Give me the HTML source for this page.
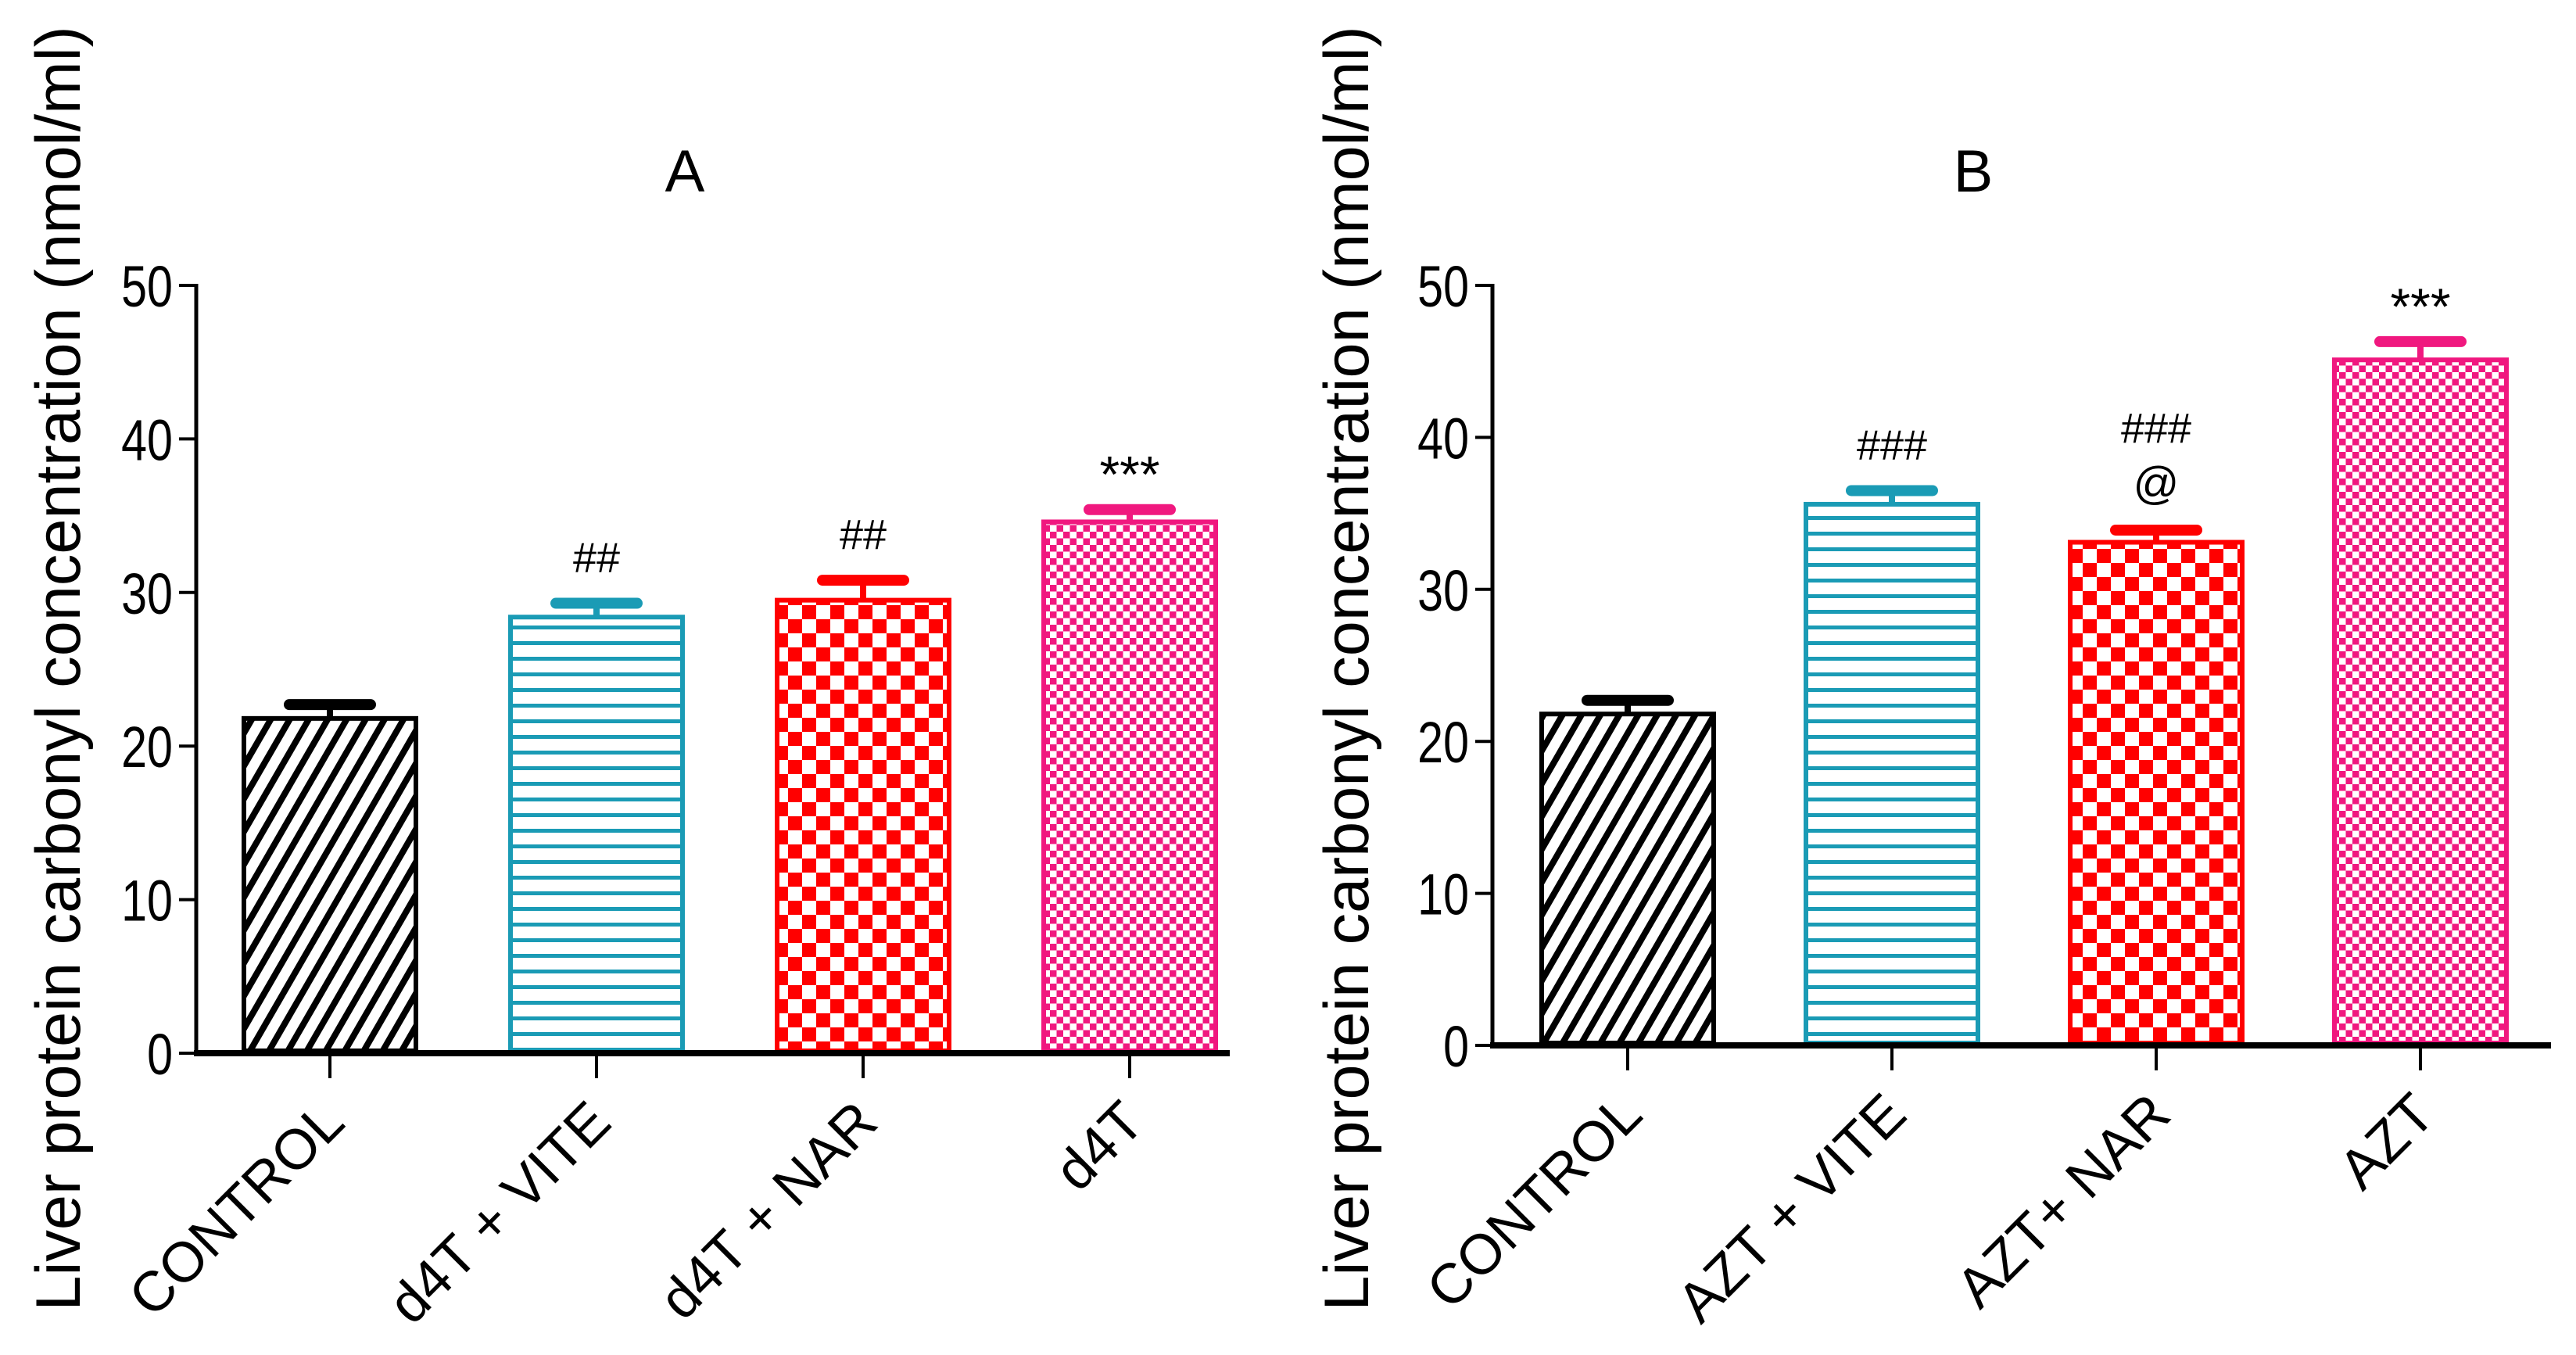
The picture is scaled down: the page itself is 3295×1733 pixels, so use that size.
<!DOCTYPE html>
<html><head><meta charset="utf-8">
<style>
html,body{margin:0;padding:0;background:#fff;}
svg{display:block;font-family:"Liberation Sans",sans-serif;}
</style></head>
<body>
<svg id="chart" width="3295" height="1733" viewBox="0 0 3295 1733" xmlns="http://www.w3.org/2000/svg">
<defs>
<pattern id="pDiag" patternUnits="userSpaceOnUse" width="21" height="21" patternTransform="rotate(30)">
<rect width="21" height="21" fill="#fff"/><rect width="8" height="21" fill="#000"/></pattern>
<pattern id="pHoriz" patternUnits="userSpaceOnUse" width="20" height="20">
<rect width="20" height="20" fill="#fff"/><rect y="0" width="20" height="5" fill="#1a9bb5"/></pattern>
<pattern id="pCheck" patternUnits="userSpaceOnUse" width="36" height="36">
<rect width="36" height="36" fill="#fff"/><rect width="18" height="18" fill="#ff0000"/><rect x="18" y="18" width="18" height="18" fill="#ff0000"/></pattern>
<pattern id="pFine" patternUnits="userSpaceOnUse" width="17" height="17">
<rect width="17" height="17" fill="#fff"/><rect width="8.5" height="8.5" fill="#f0187f"/><rect x="8.5" y="8.5" width="8.5" height="8.5" fill="#f0187f"/></pattern>
</defs>
</svg>
<script>
const categoriesA = ["CONTROL","d4T + VITE","d4T + NAR","d4T"];
const valuesA = [21.8, 28.4, 29.5, 34.6];
const errorsA = [0.9, 0.9, 1.3, 0.8];
const annotA = [[], ["##"], ["##"], ["***"]];
const categoriesB = ["CONTROL","AZT + VITE","AZT+ NAR","AZT"];
const valuesB = [21.8, 35.6, 33.1, 45.1];
const errorsB = [0.9, 0.9, 0.8, 1.2];
const annotB = [[], ["###"], ["###","@"], ["***"]];
const yTicks = [0, 10, 20, 30, 40, 50];

const NS = "http://www.w3.org/2000/svg";
const svg = document.getElementById("chart");
const fills = ["url(#pDiag)","url(#pHoriz)","url(#pCheck)","url(#pFine)"];
const strokes = ["#000","#1a9bb5","#ff0000","#f0187f"];
function mk(tag, attrs, parent){const e=document.createElementNS(NS,tag);for(const k in attrs)e.setAttribute(k,attrs[k]);(parent||svg).appendChild(e);return e;}

function panel(cfg, cats, vals, errs, annots){
  const g = mk("g",{});
  
  
  const y = v => cfg.y0 - (v/50)*(cfg.y0-cfg.y50);
  const x = i => cfg.t0 + i*cfg.step;
  const t = mk("text",{x:cfg.titleX,y:245,"font-size":76,"text-anchor":"middle"},g); t.textContent=cfg.title;
  
  
  const yt = mk("text",{transform:`translate(${cfg.yTitleX},855) rotate(-90)`,"font-size":81,"text-anchor":"middle"},g);
  yt.textContent="Liver protein carbonyl concentration (nmol/ml)";
  
  
  cats.forEach((c,i)=>{
    const cx=x(i), w=226, top=y(vals[i]);
    const b = mk("rect",{x:cx-w/2+3,y:top,width:w-6,height:cfg.y0-top-3,fill:fills[i],stroke:strokes[i],"stroke-width":6},g);
    
    
    const et=y(vals[i]+errs[i]);
    const s = mk("line",{x1:cx,x2:cx,y1:top,y2:et,stroke:strokes[i],"stroke-width":8},g);
    
    
    const cap = mk("line",{x1:cx-52,x2:cx+52,y1:et,y2:et,stroke:strokes[i],"stroke-width":14,"stroke-linecap":"round"},g);
    
    
    annots[i].forEach((a,k)=>{
      const n=annots[i].length;
      const ay = et - 40 - (n-1-k)*72;
      const fs = a==="***"?66:(a==="@"?58:54);
      const at = mk("text",{x:cx,y:ay+(a==="***"?18:0),"font-size":fs,"text-anchor":"middle"},g);
      at.textContent=a;
      
      
    });
    const tk = mk("line",{x1:cx,x2:cx,y1:cfg.y0,y2:cfg.y0+32,stroke:"#000","stroke-width":4},g);
    
    
    const lx=cx+22, ly=cfg.y0+92;
    const lb = mk("text",{transform:`translate(${lx},${ly}) rotate(-45)`,"font-size":72,"text-anchor":"end"},g);
    lb.textContent=c;
    
    
  });
  const ya = mk("line",{x1:cfg.ax,x2:cfg.ax,y1:y(50)-2,y2:cfg.y0,stroke:"#000","stroke-width":5},g);
  
  
  const xa = mk("line",{x1:cfg.ax-3,x2:cfg.xEnd,y1:cfg.y0,y2:cfg.y0,stroke:"#000","stroke-width":8},g);
  
  
  yTicks.forEach(v=>{
    const tl = mk("line",{x1:cfg.ax-22,x2:cfg.ax,y1:y(v),y2:y(v),stroke:"#000","stroke-width":4},g);
    
    
    const tx = cfg.ax-30;
    const tt = mk("text",{x:tx,y:y(v)+27,"font-size":74,"text-anchor":"end",transform:`translate(${tx},0) scale(0.8,1) translate(${-tx},0)`},g);
    tt.textContent=v;
    
    
  });
}
panel({name:"panel-a",title:"A",titleX:876,yTitleX:102,ax:251,y0:1347,y50:365,t0:422,step:341,xEnd:1573},categoriesA,valuesA,errorsA,annotA);
panel({name:"panel-b",title:"B",titleX:2524,yTitleX:1750,ax:1909,y0:1337,y50:365,t0:2082,step:338,xEnd:3263},categoriesB,valuesB,errorsB,annotB);
</script>
</body></html>
